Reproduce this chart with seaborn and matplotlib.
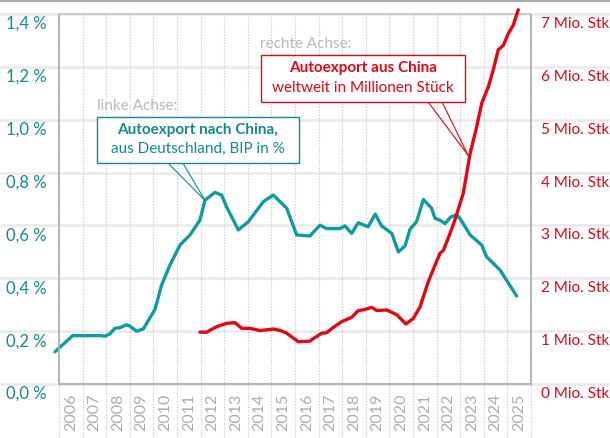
import seaborn as sns
import matplotlib.pyplot as plt
import numpy as np
import pandas as pd
from matplotlib.patches import Rectangle
from matplotlib.lines import Line2D
from matplotlib.transforms import ScaledTranslation

# Daten
teal_year = [2005.83, 2006.58, 2007.74, 2007.95, 2008.16, 2008.37, 2008.58, 2008.87, 2009.0,
             2009.29, 2009.57, 2010.07, 2010.35, 2010.70, 2011.13, 2011.55, 2011.97, 2012.19,
             2012.61, 2012.89, 2013.10, 2013.60, 2014.02, 2014.66, 2015.08, 2015.65, 2016.07,
             2016.63, 2017.06, 2017.34, 2017.90, 2018.12, 2018.40, 2018.68, 2019.10, 2019.40,
             2019.67, 2020.10, 2020.38, 2020.66, 2020.87, 2021.15, 2021.44, 2021.79, 2021.93,
             2022.14, 2022.36, 2022.60, 2022.85, 2023.00, 2023.42, 2023.91, 2024.12, 2024.69,
             2025.39]
teal_bip = [0.122, 0.183, 0.183, 0.181, 0.190, 0.211, 0.213, 0.224, 0.219,
            0.200, 0.208, 0.283, 0.375, 0.450, 0.526, 0.564, 0.620, 0.696,
            0.725, 0.715, 0.670, 0.583, 0.614, 0.690, 0.715, 0.665, 0.564,
            0.560, 0.601, 0.588, 0.588, 0.598, 0.570, 0.610, 0.595, 0.643,
            0.598, 0.570, 0.500, 0.522, 0.585, 0.614, 0.698, 0.665, 0.627,
            0.620, 0.607, 0.632, 0.640, 0.625, 0.564, 0.526, 0.481, 0.431,
            0.333]

red_year = [2011.97, 2012.26, 2012.45, 2012.68, 2013.10, 2013.46, 2013.74, 2014.10, 2014.52,
            2015.08, 2015.40, 2015.65, 2016.14, 2016.63, 2016.78, 2017.13, 2017.34, 2017.62,
            2017.98, 2018.40, 2018.68, 2018.97, 2019.25, 2019.46, 2019.89, 2020.31, 2020.70,
            2021.01, 2021.30, 2021.65, 2022.14, 2022.29, 2022.57, 2022.78, 2023.13, 2023.42,
            2023.70, 2023.91, 2024.19, 2024.40, 2024.61, 2024.83, 2025.04, 2025.25, 2025.46]
red_mio = [0.98, 0.98, 1.03, 1.084, 1.148, 1.16, 1.053, 1.053, 1.01,
           1.04, 1.01, 0.96, 0.80, 0.81, 0.86, 0.96, 0.97, 1.07,
           1.18, 1.26, 1.39, 1.41, 1.45, 1.39, 1.40, 1.31, 1.135,
           1.24, 1.46, 1.94, 2.47, 2.53, 2.85, 3.11, 3.61, 4.36,
           4.87, 5.31, 5.62, 5.94, 6.32, 6.41, 6.63, 6.79, 7.08]

left_ticks = [0.0, 0.2, 0.4, 0.6, 0.8, 1.0, 1.2, 1.4]
left_labels = ["0,0 %", "0,2 %", "0,4 %", "0,6 %", "0,8 %", "1,0 %", "1,2 %", "1,4 %"]
right_ticks = [0, 1, 2, 3, 4, 5, 6, 7]
right_labels = [f"{v} Mio. Stk" for v in right_ticks]
years = list(range(2006, 2026))

TEAL = "#0f9ba1"
TEAL_TXT = "#138a8f"
RED = "#e30613"
GRAY = "#b4b4b4"

sns.set_theme(style="white")
plt.rcParams["font.family"] = ["Lato", "DejaVu Sans"]

fig = plt.figure(figsize=(6.1, 4.38), dpi=100)
ax = fig.add_axes([59 / 610, 1 - 384 / 438, 472 / 610, 370 / 438])
ax2 = ax.twinx()

df_teal = pd.DataFrame({"jahr": teal_year, "bip": teal_bip})
df_red = pd.DataFrame({"jahr": red_year, "mio": red_mio})

sns.lineplot(data=df_teal, x="jahr", y="bip", ax=ax, color=TEAL, lw=2.4,
             clip_on=False, zorder=3)
sns.lineplot(data=df_red, x="jahr", y="mio", ax=ax2, color=RED, lw=2.4,
             clip_on=False, zorder=3)

ax.set_xlim(2006, 2026)
ax.set_ylim(0, 1.4)
ax2.set_ylim(0, 7)

# Gitter: horizontal über volle Breite, vertikal gepunktet bis unten
pos = ax.get_position()
xmin = -pos.x0 / pos.width
xmax = (1 - pos.x0) / pos.width
for v in left_ticks:
    ax.axhline(v, xmin=xmin, xmax=xmax, color="#ebebeb", lw=2, zorder=0, clip_on=False)
ymin = -pos.y0 / pos.height
for y in range(2006, 2027):
    ax.axvline(y, ymin=ymin, ymax=1, color="#c4c4c4", lw=0.8, ls=(0, (1, 1.5)),
               zorder=0, clip_on=False)

for a in (ax, ax2):
    for s in a.spines.values():
        s.set_color(GRAY)
        s.set_linewidth(1.2)
ax2.spines["top"].set_color("#d0d0d0")

ax.set_xticks([y + 0.5 for y in years], [str(y) for y in years], rotation=90)
ax.set_yticks(left_ticks, left_labels)
ax2.set_yticks(right_ticks, right_labels)
ax.tick_params(axis="x", length=0, pad=7, labelsize=11.5, labelcolor="#acacac")
ax.tick_params(axis="y", length=0, pad=9, labelsize=12, labelcolor=TEAL_TXT)
ax2.tick_params(axis="y", length=0, pad=7.5, labelsize=11, labelcolor=RED)
shift = ScaledTranslation(0, -0.10, fig.dpi_scale_trans)
for lab in ax.get_yticklabels() + ax2.get_yticklabels():
    lab.set_va("center")
    lab.set_transform(lab.get_transform() + shift)
ax.set_xlabel("")
ax.set_ylabel("")
ax2.set_ylabel("")

# Linie ganz oben
fig.add_artist(Line2D([0, 1], [0.998, 0.998], color="#aaaaaa", lw=1.5))

# Beschriftungen
ax.text(2007.61, 1.052, "linke Achse:", color="#b8b8b8", fontsize=11, va="center", ha="left")
ax.text(2014.52, 1.287, "rechte Achse:", color="#b8b8b8", fontsize=11, va="center", ha="left")

def callout(x0, x1, y0, y1, b0, b1, target, color, t1, t2):
    ax.add_patch(Rectangle((x0, y0), x1 - x0, y1 - y0, facecolor="white",
                           edgecolor=color, lw=1, zorder=5))
    for bx in (b0, b1):
        ax.plot([bx, target[0]], [y0, target[1]], color=color, lw=0.8, zorder=4)
    cx = (x0 + x1) / 2
    h = y1 - y0
    ax.text(cx, y0 + h * 0.72, t1, color=color, fontsize=11, fontweight="bold",
            ha="center", va="center", zorder=6)
    ax.text(cx, y0 + h * 0.3, t2, color=color, fontsize=11,
            ha="center", va="center", zorder=6)

callout(2007.61, 2016.17, 0.836, 1.010, 2010.62, 2011.25, (2012.19, 0.694), TEAL_TXT,
        "Autoexport nach China,", "aus Deutschland, BIP in %")
callout(2014.56, 2023.20, 1.067, 1.245, 2021.64, 2022.23, (2023.33, 0.866), RED,
        "Autoexport aus China", "weltweit in Millionen Stück")

plt.savefig("out.png", dpi=100)
